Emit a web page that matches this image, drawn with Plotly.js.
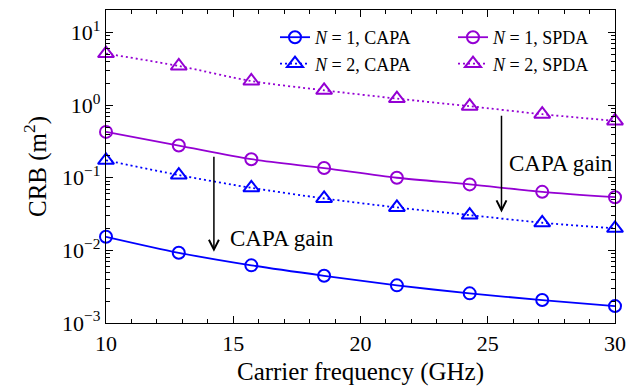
<!DOCTYPE html>
<html>
<head>
<meta charset="utf-8">
<script src="https://cdn.plot.ly/plotly-3.0.1.min.js"></script>
</head>
<body style="margin:0;background:#fff">
<div id="chart" style="width:629px;height:386px"></div>
<script>
// Carrier frequency (GHz) at the marker positions
const freqGHz = [10, 12.86, 15.71, 18.57, 21.43, 24.29, 27.14, 30];
// CRB (m^2)
const crbN1CAPA = [0.0154, 0.00927, 0.00622, 0.00447, 0.00330, 0.00256, 0.00207, 0.00171];
const crbN1SPDA = [0.428, 0.278, 0.180, 0.136, 0.100, 0.081, 0.064, 0.0540];
const crbN2CAPA = [0.174, 0.109, 0.0726, 0.0519, 0.0390, 0.0306, 0.0240, 0.0201];
const crbN2SPDA = [5.13, 3.46, 2.15, 1.60, 1.23, 0.966, 0.750, 0.607];
const seriesNames = ['<i>N</i> = 1, CAPA', '<i>N</i> = 1, SPDA', '<i>N</i> = 2, CAPA', '<i>N</i> = 2, SPDA'];
const xTickVals = [10, 15, 20, 25, 30];
const yTickVals = [0.001, 0.01, 0.1, 1, 10];
const yTickText = ['10<sup>\u22123</sup>', '10<sup>\u22122</sup>', '10<sup>\u22121</sup>', '10<sup>0</sup>', '10<sup>1</sup>'];
const annoText = 'CAPA gain';

const BLUE = '#0000ff';
const PURPLE = '#9400d3';
const FONT = 'Liberation Serif';

// minor tick positions
const yMinor = [];
for (let e = -3; e <= 1; e++) for (let m = 2; m <= 9; m++) yMinor.push(m * Math.pow(10, e));
const xMinor = [];
for (let v = 11; v < 30; v++) if (v % 5 !== 0) xMinor.push(v);

function tr(y, name, color, dash, symbol, legend) {
  const tri = symbol.indexOf('triangle') === 0;
  return {
    x: freqGHz, y: y, name: name, type: 'scatter', mode: 'lines+markers',
    line: {color: color, width: 1.8, dash: dash, shape: 'spline', smoothing: 0.8},
    marker: {symbol: symbol, size: tri ? 14 : 12, color: color, line: {color: color, width: 2}},
    cliponaxis: false,
    legend: legend
  };
}

const data = [
  tr(crbN1CAPA, seriesNames[0], BLUE, 'solid', 'circle-open', 'legend'),
  tr(crbN2CAPA, seriesNames[2], BLUE, '2px,3px', 'triangle-up-open', 'legend'),
  tr(crbN1SPDA, seriesNames[1], PURPLE, 'solid', 'circle-open', 'legend2'),
  tr(crbN2SPDA, seriesNames[3], PURPLE, '2px,3px', 'triangle-up-open', 'legend2')
];

const L = 106, R = 14, T = 10, B = 63;
const PW = 629 - L - R, PH = 386 - T - B;
function px2paperX(px) { return (px - L) / PW; }
function px2paperY(py) { return (386 - B - py) / PH; }

function legendAt(xpx, ypx) {
  return {
    x: px2paperX(xpx), y: px2paperY(ypx), xanchor: 'left', yanchor: 'top',
    bgcolor: 'rgba(255,255,255,0.8)', borderwidth: 0,
    font: {family: FONT, size: 18, color: '#000'}
  };
}

const axisCommon = {
  showline: true, linecolor: '#000', linewidth: 1.2, mirror: 'allticks',
  ticks: 'inside', ticklen: 7, tickwidth: 1.2, tickcolor: '#000',
  showgrid: false, zeroline: false,
  tickfont: {family: FONT, size: 22, color: '#000'}
};

const layout = {
  width: 629, height: 386,
  font: {family: FONT, size: 18, color: '#000'},
  margin: {l: L, r: R, t: T, b: B},
  paper_bgcolor: '#fff', plot_bgcolor: '#fff',
  showlegend: true,
  xaxis: Object.assign({}, axisCommon, {
    range: [10, 30], tickmode: 'array', tickvals: xTickVals,
    minor: {tickmode: 'array', tickvals: xMinor, ticks: 'inside', ticklen: 4, tickwidth: 1, tickcolor: '#000'},
    title: {text: 'Carrier frequency (GHz)', font: {family: FONT, size: 25, color: '#000'}, standoff: 8}
  }),
  yaxis: Object.assign({}, axisCommon, {
    type: 'log', range: [-3, 1.31], tickmode: 'array', tickvals: yTickVals, ticktext: yTickText,
    minor: {tickmode: 'array', tickvals: yMinor, ticks: 'inside', ticklen: 4, tickwidth: 1, tickcolor: '#000'},
    title: {text: 'CRB (m<sup>2</sup>)', font: {family: FONT, size: 25, color: '#000'}, standoff: 8}
  }),
  legend: legendAt(275, 19),
  legend2: legendAt(453, 19),
  annotations: [
    {x: 14.24, y: -2.02, ax: 14.24, ay: -0.689, xref: 'x', yref: 'y', axref: 'x', ayref: 'y',
     showarrow: true, arrowhead: 5, arrowsize: 1.3, arrowwidth: 1.5, arrowcolor: '#000', text: '', standoff: 0},
    {x: 25.54, y: -1.477, ax: 25.54, ay: -0.125, xref: 'x', yref: 'y', axref: 'x', ayref: 'y',
     showarrow: true, arrowhead: 5, arrowsize: 1.3, arrowwidth: 1.5, arrowcolor: '#000', text: '', standoff: 0},
    {x: 14.79, y: -1.83, xref: 'x', yref: 'y', xanchor: 'left', yanchor: 'middle', showarrow: false,
     text: annoText, font: {family: FONT, size: 23, color: '#000'}},
    {x: 25.76, y: -0.81, xref: 'x', yref: 'y', xanchor: 'left', yanchor: 'middle', showarrow: false,
     text: annoText, font: {family: FONT, size: 23, color: '#000'}}
  ]
};

Plotly.newPlot('chart', data, layout, {displayModeBar: false, staticPlot: true});
</script>
</body>
</html>
